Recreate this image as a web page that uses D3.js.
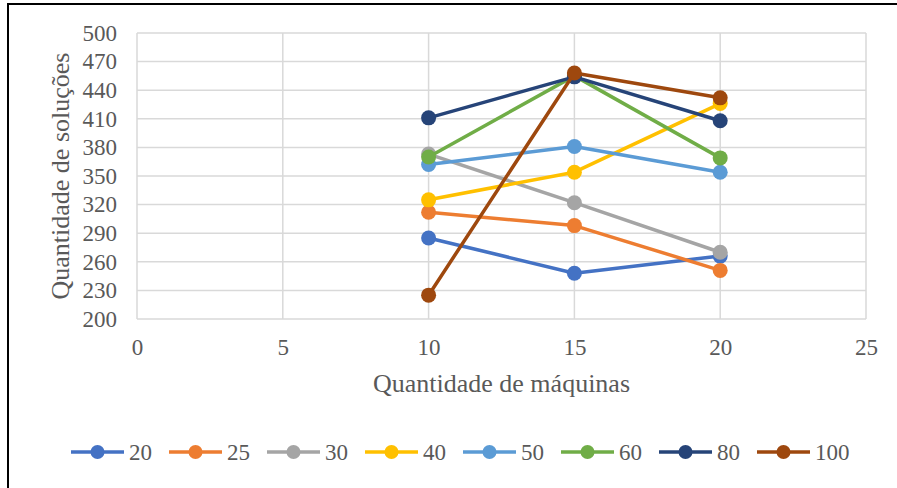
<!DOCTYPE html>
<html>
<head>
<meta charset="utf-8">
<script src="https://cdn.jsdelivr.net/npm/d3@7/dist/d3.min.js"></script>
<style>
  html, body { margin: 0; padding: 0; background: #fff; }
  svg { display: block; }
  svg text { font-family: "Liberation Serif", "Times New Roman", serif !important; fill: #595959; }
</style>
</head>
<body>
<svg id="chart" width="897" height="488"></svg>
<script>
// Number of machines (x) and solution counts per series
const machines = [10, 15, 20];
const seriesNames = ["20", "25", "30", "40", "50", "60", "80", "100"];
const seriesColors = ["#4472C4", "#ED7D31", "#A5A5A5", "#FFC000", "#5B9BD5", "#70AD47", "#264478", "#9E480E"];
const s20 = [285, 248, 266];
const s25 = [312, 298, 251];
const s30 = [373, 322, 270];
const s40 = [325, 354, 426];
const s50 = [362, 381, 354];
const s60 = [370, 455, 369];
const s80 = [411, 454, 408];
const s100 = [225, 458, 432];
const seriesValues = [s20, s25, s30, s40, s50, s60, s80, s100];

const xTicks = [0, 5, 10, 15, 20, 25];
const yTicks = [200, 230, 260, 290, 320, 350, 380, 410, 440, 470, 500];

const svg = d3.select("#chart");

// Outer frame
svg.append("rect")
  .attr("x", 8).attr("y", 4)
  .attr("width", 897).attr("height", 500)
  .attr("fill", "none").attr("stroke", "#000").attr("stroke-width", 2);

const plot = { left: 137, right: 866, top: 33, bottom: 319 };
const x = d3.scaleLinear().domain([0, 25]).range([plot.left, plot.right]);
const y = d3.scaleLinear().domain([200, 500]).range([plot.bottom, plot.top]);

// Gridlines
const grid = svg.append("g").attr("stroke", "#D9D9D9").attr("stroke-width", 1.5);
grid.selectAll("line.h").data(yTicks).join("line")
  .attr("x1", plot.left).attr("x2", plot.right)
  .attr("y1", d => y(d)).attr("y2", d => y(d));
grid.selectAll("line.v").data(xTicks).join("line")
  .attr("y1", plot.top).attr("y2", plot.bottom)
  .attr("x1", d => x(d)).attr("x2", d => x(d));

// Axes (labels only, lines come from the grid)
const yAxis = svg.append("g")
  .attr("transform", `translate(${plot.left - 20},0)`)
  .call(d3.axisLeft(y).tickValues(yTicks).tickSize(0).tickPadding(0));
yAxis.select(".domain").remove();
yAxis.selectAll("text").attr("font-size", 23);

const xAxis = svg.append("g")
  .attr("transform", `translate(0,${plot.bottom + 20})`)
  .call(d3.axisBottom(x).tickValues(xTicks).tickSize(0).tickPadding(0));
xAxis.select(".domain").remove();
xAxis.selectAll("text").attr("font-size", 23);

// Axis titles
svg.append("text")
  .attr("x", (plot.left + plot.right) / 2).attr("y", 392)
  .attr("text-anchor", "middle").attr("font-size", 26)
  .text("Quantidade de máquinas");
svg.append("text")
  .attr("transform", `translate(69,${(plot.top + plot.bottom) / 2}) rotate(-90)`)
  .attr("text-anchor", "middle").attr("font-size", 26)
  .text("Quantidade de soluções");

// Series lines and markers
const line = d3.line().x((d, i) => x(machines[i])).y(d => y(d));
seriesValues.forEach((vals, k) => {
  const g = svg.append("g");
  g.append("path").datum(vals)
    .attr("d", line).attr("fill", "none")
    .attr("stroke", seriesColors[k]).attr("stroke-width", 3.5)
    .attr("stroke-linejoin", "round");
  g.selectAll("circle").data(vals).join("circle")
    .attr("cx", (d, i) => x(machines[i])).attr("cy", d => y(d))
    .attr("r", 7.5).attr("fill", seriesColors[k]);
});

// Legend
const legend = svg.append("g").attr("transform", "translate(71,452)");
let lx = 0;
seriesNames.forEach((name, k) => {
  const item = legend.append("g").attr("transform", `translate(${lx},0)`);
  item.append("line").attr("x1", 0).attr("x2", 53).attr("y1", 0).attr("y2", 0)
    .attr("stroke", seriesColors[k]).attr("stroke-width", 3.5);
  item.append("circle").attr("cx", 26.5).attr("cy", 0).attr("r", 7).attr("fill", seriesColors[k]);
  const t = item.append("text").attr("x", 58).attr("y", 8).attr("font-size", 23).text(name);
  lx += 58 + t.node().getComputedTextLength() + 17;
});
</script>
</body>
</html>
